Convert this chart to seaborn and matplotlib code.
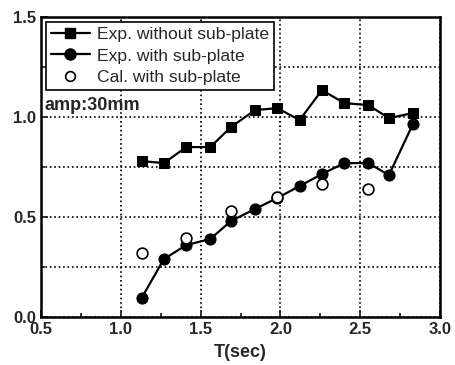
import matplotlib
matplotlib.use("Agg")
import matplotlib.pyplot as plt
import seaborn as sns
import pandas as pd
from matplotlib.ticker import MultipleLocator
from matplotlib.lines import Line2D

# Data
T_exp = [1.13, 1.27, 1.41, 1.56, 1.69, 1.84, 1.98, 2.12, 2.26, 2.40, 2.55, 2.68, 2.83]
exp_without = [0.78, 0.77, 0.85, 0.85, 0.95, 1.035, 1.045, 0.985, 1.135, 1.07, 1.06, 0.995, 1.02]
exp_with = [0.095, 0.29, 0.36, 0.39, 0.48, 0.54, 0.595, 0.655, 0.715, 0.77, 0.77, 0.71, 0.965]
T_cal = [1.13, 1.41, 1.69, 1.98, 2.26, 2.55]
cal_with = [0.32, 0.395, 0.53, 0.60, 0.665, 0.64]

sns.set_style("ticks")
plt.rcParams['font.family'] = ['Liberation Sans', 'DejaVu Sans']
plt.rcParams['font.weight'] = 'bold'

fig = plt.figure(figsize=(4.56, 3.65), dpi=100)
ax = fig.add_axes([0.09, 0.1315, 0.875, 0.8215])

df1 = pd.DataFrame({"T": T_exp, "v": exp_without})
df2 = pd.DataFrame({"T": T_exp, "v": exp_with})
df3 = pd.DataFrame({"T": T_cal, "v": cal_with})

sns.lineplot(data=df1, x="T", y="v", ax=ax, color="black", marker="s", markersize=7,
             linewidth=1.6, markeredgecolor="black", zorder=3)
sns.lineplot(data=df2, x="T", y="v", ax=ax, color="black", marker="o", markersize=8,
             linewidth=1.6, markeredgecolor="black", zorder=3)
sns.scatterplot(data=df3, x="T", y="v", ax=ax, facecolor="white", edgecolor="black",
                s=60, linewidth=1.2, zorder=4)

ax.set_xlim(0.5, 3.0)
ax.set_ylim(0.0, 1.5)
ax.xaxis.set_major_locator(MultipleLocator(0.5))
ax.xaxis.set_minor_locator(MultipleLocator(0.25))
ax.yaxis.set_major_locator(MultipleLocator(0.5))
ax.yaxis.set_minor_locator(MultipleLocator(0.25))
ax.set_xticks([0.5, 1.0, 1.5, 2.0, 2.5, 3.0])
ax.set_xticklabels(["0.5", "1.0", "1.5", "2.0", "2.5", "3.0"])
ax.set_yticks([0.0, 0.5, 1.0, 1.5])
ax.set_yticklabels(["0.0", "0.5", "1.0", "1.5"])

ax.grid(True, which="major", axis="x", linestyle=":", color="black", linewidth=1.2)
ax.grid(True, which="both", axis="y", linestyle=":", color="black", linewidth=1.2)
ax.tick_params(which="both", direction="in", top=False, right=False, labelsize=12, width=1.3)
ax.tick_params(which="major", length=5)
ax.tick_params(which="minor", length=3)
for s in ax.spines.values():
    s.set_linewidth(1.8)
    s.set_color("black")

ax.set_xlabel("T(sec)", fontsize=13, fontweight="bold", labelpad=5)
ax.set_ylabel("")

ax.text(0.52, 1.06, "amp:30mm", fontsize=13, fontweight="bold", va="center", ha="left")

handles = [
    Line2D([], [], color="black", marker="s", markersize=7, linewidth=1.6),
    Line2D([], [], color="black", marker="o", markersize=8, linewidth=1.6),
    Line2D([], [], color="black", marker="o", markersize=7, linestyle="none",
           markerfacecolor="white", markeredgewidth=1.2),
]
labels = ["Exp. without sub-plate", "Exp. with sub-plate", "Cal. with sub-plate"]
leg = ax.legend(handles, labels, loc="upper left", bbox_to_anchor=(0.012, 0.985),
                frameon=True, fancybox=False, edgecolor="black", framealpha=1,
                fontsize=12.6, handlelength=2.2, handletextpad=0.4, borderpad=0.3,
                labelspacing=0.35, borderaxespad=0.0)
leg.get_frame().set_linewidth(1.2)
for t in leg.get_texts():
    t.set_fontweight("normal")

fig.savefig("out.png", dpi=100)
